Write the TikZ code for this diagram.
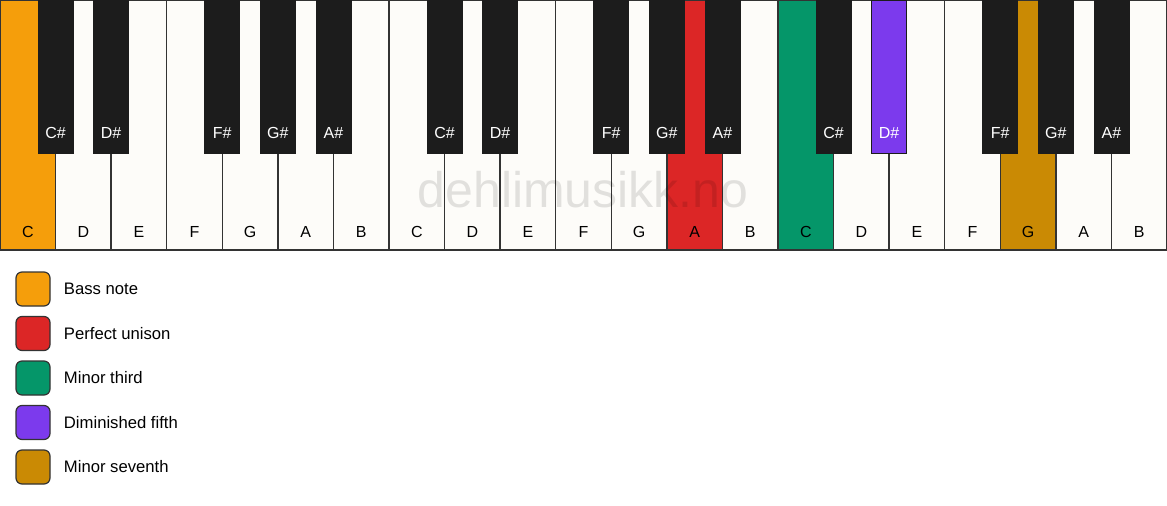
\documentclass[tikz,border=0pt]{standalone}
\usepackage{fontspec}
\setmainfont{Liberation Sans}
\usetikzlibrary{positioning}

\definecolor{keywhite}{HTML}{FDFCF9}
\definecolor{keyblack}{HTML}{1C1C1C}
\definecolor{keyline}{HTML}{333333}
\definecolor{bassnote}{HTML}{F59E0B}
\definecolor{unison}{HTML}{DC2626}
\definecolor{minthird}{HTML}{059669}
\definecolor{dimfifth}{HTML}{7C3AED}
\definecolor{minseventh}{HTML}{CA8A04}

\tikzset{
  whitekey/.style={draw=keyline,line width=1.1pt},
  blackkey/.style={draw=keyblack,line width=0.6pt},
  keyname/.style={font=\fontsize{12}{14}\selectfont,anchor=base,inner sep=0pt},
  legendbox/.style={draw=keyline,line width=0.9pt,rounded corners=4.5pt,minimum size=25.5pt,inner sep=0pt},
}

\begin{document}
\begin{tikzpicture}[x=0.75pt,y=-0.75pt]
  \useasboundingbox[fill=white](0,0) rectangle (1167,506);
  \def\kw{55.571}
  % white keys
  \foreach \i/\n/\c in {0/C/bassnote,1/D/keywhite,2/E/keywhite,3/F/keywhite,4/G/keywhite,5/A/keywhite,6/B/keywhite,
      7/C/keywhite,8/D/keywhite,9/E/keywhite,10/F/keywhite,11/G/keywhite,12/A/unison,13/B/keywhite,
      14/C/minthird,15/D/keywhite,16/E/keywhite,17/F/keywhite,18/G/minseventh,19/A/keywhite,20/B/keywhite}{
    \draw[whitekey,fill=\c]({\i*\kw},0)rectangle({(\i+1)*\kw},250);
    \node[keyname](w\i)at({(\i+0.5)*\kw},237){\n};
  }
  % watermark
  \node[font=\fontsize{37.5}{38}\selectfont,text=black,opacity=0.11,anchor=base](mark)at(583,208){dehlimusikk.no};
  % black keys
  \foreach \o in {0,1,2}{
    \foreach \j/\n in {1/C\#,2/D\#,4/F\#,5/G\#,6/A\#}{
      \def\c{keyblack}
      \ifnum\o=2 \ifnum\j=2 \def\c{dimfifth}\fi\fi
      \draw[blackkey,fill=\c]({(\o*7+\j)*\kw-17.5},0)rectangle({(\o*7+\j)*\kw+17.5},153);
      \node[keyname,text=white](b\o\j)at({(\o*7+\j)*\kw},139){\n};
    }
  }
  % legend
  \foreach \k/\c/\t in {0/bassnote/Bass note,1/unison/Perfect unison,2/minthird/Minor third,
      3/dimfifth/Diminished fifth,4/minseventh/Minor seventh}{
    \node[legendbox,fill=\c](leg\k)at(33,{289+44.5*\k}){};
    \node[font=\fontsize{12.5}{15}\selectfont,right=9.8pt of leg\k.east,anchor=west,inner sep=0pt](legtext\k){\t};
  }
\end{tikzpicture}
\end{document}
